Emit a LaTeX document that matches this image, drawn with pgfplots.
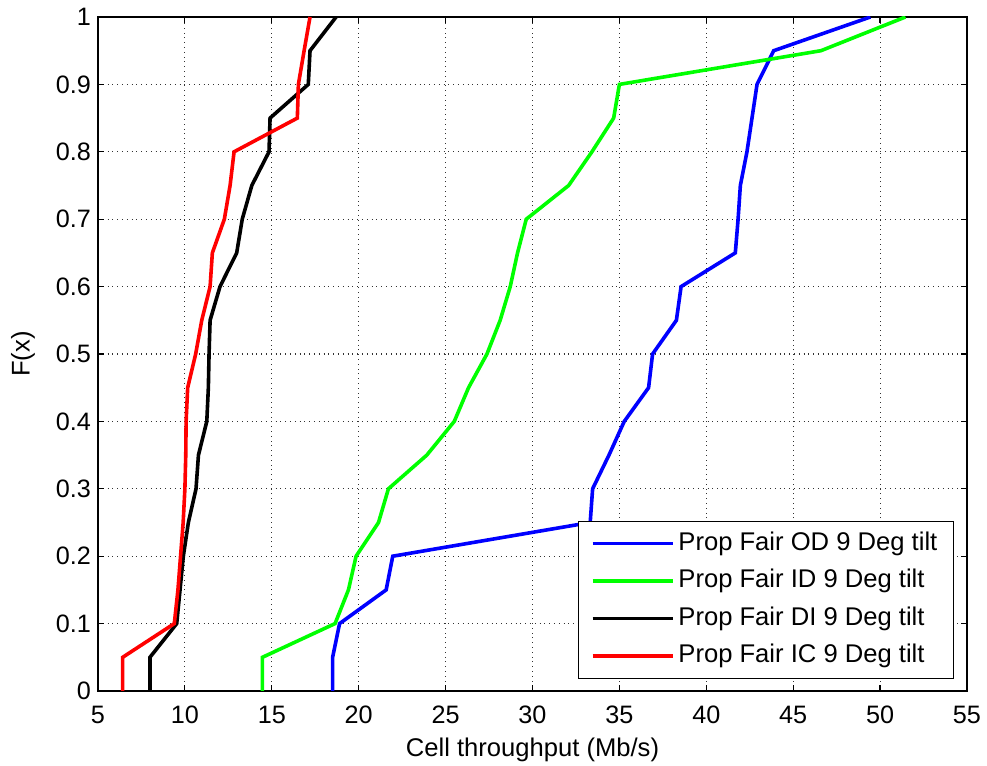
\documentclass[border=0pt]{standalone}
\usepackage{fontspec}
\setmainfont{Liberation Sans}
\usepackage{pgfplots}
\pgfplotsset{compat=1.18}
\definecolor{mblue}{rgb}{0,0,1}
\definecolor{mgreen}{rgb}{0,1,0}
\definecolor{mred}{rgb}{1,0,0}
\begin{document}
\begin{tikzpicture}
\begin{axis}[
  scale only axis,
  width=434.5pt, height=337pt,
  xmin=5, xmax=55, ymin=0, ymax=1,
  xtick={5,10,...,55},
  ytick={0,0.1,...,1.0},
  yticklabels={0,0.1,0.2,0.3,0.4,0.5,0.6,0.7,0.8,0.9,1},
  /pgf/number format/assume math mode=true,
  tick label style={font=\fontsize{12.6}{14}\selectfont},
  xticklabel style={yshift=-4pt},
  xlabel={Cell throughput (Mb/s)},
  ylabel={F(x)},
  every axis x label/.style={at={(axis description cs:0.5,0)}, anchor=center, yshift=-29.5pt, font=\fontsize{12.8}{14}\selectfont},
  every axis y label/.style={at={(axis description cs:-0.0863,0.5)}, anchor=center, rotate=90, font=\fontsize{12.8}{14}\selectfont},
  grid=major,
  grid style={dotted, black!80, line width=0.55pt},
  tick align=inside,
  tick pos=both,
  major tick length=3pt,
  axis line style={line width=0.6pt},
  every tick/.style={black, line width=0.6pt},
  legend cell align=left,
  legend style={
    at={(axis description cs:0.985,0.0178)}, anchor=south east,
    font=\fontsize{12.8}{14}\selectfont,
    inner xsep=6pt, inner ysep=2.9pt,
    row sep=2.25pt,
    nodes={inner sep=2pt, text height=9.5pt, text depth=3pt},
    draw=black, line width=0.6pt,
  },
  legend image code/.code={\draw[#1, line width=1.8pt] (0pt,0pt) -- (40pt,0pt);},
]
\addplot[mblue, line width=1.8pt] coordinates {
(18.5,0) (18.5,0.05) (18.9,0.1) (21.58,0.15) (21.96,0.2) (33.32,0.25) (33.46,0.3)
(34.4,0.35) (35.28,0.4) (36.68,0.45) (36.91,0.5) (38.28,0.55) (38.55,0.6)
(41.67,0.65) (41.83,0.7) (41.96,0.75) (42.34,0.8) (42.63,0.85) (42.92,0.9)
(43.88,0.95) (49.44,1)
};
\addlegendentry{Prop Fair OD 9 Deg tilt}
\addplot[mgreen, line width=1.8pt] coordinates {
(14.46,0) (14.46,0.05) (18.64,0.1) (19.41,0.15) (19.85,0.2) (21.14,0.25) (21.71,0.3)
(23.92,0.35) (25.5,0.4) (26.32,0.45) (27.38,0.5) (28.14,0.55) (28.72,0.6)
(29.14,0.65) (29.64,0.7) (32.08,0.75) (33.42,0.8) (34.67,0.85) (35.0,0.9)
(46.6,0.95) (51.46,1)
};
\addlegendentry{Prop Fair ID 9 Deg tilt}
\addplot[black, line width=1.8pt] coordinates {
(7.99,0) (7.99,0.05) (9.53,0.1) (9.72,0.15) (9.91,0.2) (10.2,0.25) (10.64,0.3)
(10.78,0.35) (11.26,0.4) (11.35,0.45) (11.39,0.5) (11.45,0.55) (12.02,0.6)
(12.98,0.65) (13.3,0.7) (13.85,0.75) (14.84,0.8) (14.9,0.85) (17.1,0.9)
(17.2,0.95) (18.7,1)
};
\addlegendentry{Prop Fair DI 9 Deg tilt}
\addplot[mred, line width=1.8pt] coordinates {
(6.42,0) (6.42,0.05) (9.39,0.1) (9.6,0.15) (9.75,0.2) (9.9,0.25) (10.0,0.3)
(10.05,0.35) (10.07,0.4) (10.16,0.45) (10.62,0.5) (10.97,0.55) (11.45,0.6)
(11.58,0.65) (12.27,0.7) (12.6,0.75) (12.83,0.8) (16.47,0.85) (16.53,0.9)
(16.86,0.95) (17.2,1)
};
\addlegendentry{Prop Fair IC 9 Deg tilt}
\end{axis}
\pgfresetboundingbox
\path (-49pt,-37.5pt) rectangle (444.5pt,345.5pt);
\end{tikzpicture}
\end{document}
